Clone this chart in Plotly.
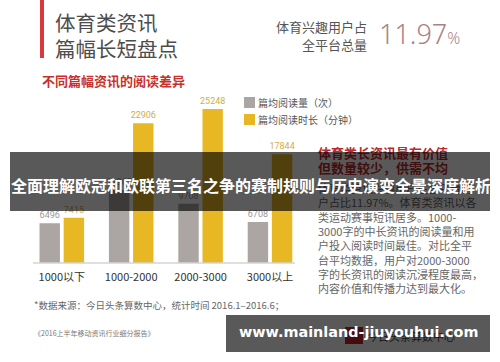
import plotly.graph_objects as go

# ---- data ----
categories = ["1000以下", "1000-2000", "2000-3000", "3000以上"]
read_counts = [6496, 11965, 9708, 6708]          # 篇均阅读量（次）
read_minutes = [7415, 22906, 25248, 17844]       # 篇均阅读时长（分钟）
series_names = ["篇均阅读量（次）", "篇均阅读时长（分钟）"]

title_lines = ["体育类资讯", "篇幅长短盘点"]
subtitle = "不同篇幅资讯的阅读差异"
kpi_label = ["体育兴趣用户占", "全平台总量"]
kpi_value = "11.97"
red_lines = ["体育类长资讯最有价值", "但数量较少，供需不均"]
body_lines = ["体育类资讯兴趣用户在全平台用",
              "户占比11.97%。体育类资讯以各",
              "类运动赛事短讯居多。1000-",
              "3000字的中长资讯的阅读量和用",
              "户投入阅读时间最佳。对比全平",
              "台平均数据，用户对2000-3000",
              "字的长资讯的阅读沉浸程度最高，",
              "内容价值和传播力达到最大化。"]
footer = "*数据来源：今日头条算数中心，统计时间 2016.1–2016.6；"
report = "《2016上半年移动资讯行业细分报告》"
overlay_title = "全面理解欧冠和欧联第三名之争的赛制规则与历史演变全景深度解析"
watermark = "www.mainland-jiuyouhui.com"

W, H = 500, 362
CJK = "Noto Sans CJK SC"
GRAY = "#aba6a3"
GOLD = "#e8b824"


def px(x):
    return x / W


def py(y):
    return 1 - y / H


fig = go.Figure()
fig.add_trace(go.Bar(x=categories, y=read_counts, name=series_names[0],
                     marker=dict(color=GRAY, line=dict(width=0)),
                     texttemplate="%{y:.0f}", textposition="outside",
                     constraintext="none",
                     textfont=dict(size=9, color="#9a9794", family="Roboto"),
                     cliponaxis=False))
fig.add_trace(go.Bar(x=categories, y=read_minutes, name=series_names[1],
                     marker=dict(color=GOLD, line=dict(width=0)),
                     texttemplate="%{y:.0f}", textposition="outside",
                     constraintext="none",
                     textfont=dict(size=9, color="#cfae45", family="Roboto"),
                     cliponaxis=False))

baseline = 263
scale = 0.0061  # px per unit
top_px = 100
ymax = (baseline - top_px) / scale

shapes = [
    dict(type="line", xref="paper", yref="paper", x0=px(33), x1=px(295),
         y0=py(baseline), y1=py(baseline), line=dict(color="#d4d4d4", width=1.5)),
    dict(type="rect", xref="paper", yref="paper", x0=px(40), x1=px(44),
         y0=py(0), y1=py(58), fillcolor="#d9383e", line=dict(width=0)),
    dict(type="rect", xref="paper", yref="paper", x0=px(244), x1=px(255),
         y0=py(97), y1=py(108), fillcolor=GRAY, line=dict(width=0)),
    dict(type="rect", xref="paper", yref="paper", x0=px(244), x1=px(255),
         y0=py(114), y1=py(125), fillcolor=GOLD, line=dict(width=0)),
    dict(type="rect", xref="paper", yref="paper", x0=px(345), x1=px(363),
         y0=py(327), y1=py(344), fillcolor="#c4252b", line=dict(width=0)),
]

ann = []


def text(x, y, s, size, color, anchor="left", weight="normal", family=CJK):
    ann.append(dict(x=px(x), y=py(y), xref="paper", yref="paper", text=s,
                    showarrow=False, xanchor=anchor, yanchor="middle",
                    align=anchor if anchor != "center" else "center",
                    borderpad=0,
                    font=dict(size=size, color=color, family=family, weight=weight)))


text(54, 22, title_lines[0], 20.5, "#4d4d4d")
text(54, 48, title_lines[1], 20.5, "#4d4d4d")
text(41, 80, subtitle, 13, "#c8302a", weight="bold")
text(368, 27, kpi_label[0], 13, "#555555", anchor="right")
text(368, 44, kpi_label[1], 13, "#555555", anchor="right")
ann.append(dict(x=px(378), y=py(34), xref="paper", yref="paper",
                text=kpi_value + "<span style='font-size:16px'>%</span>",
                showarrow=False, xanchor="left", yanchor="middle", align="left",
                borderpad=0,
                font=dict(size=27, color="#a98287", family="Noto Sans", weight=300)))
text(257, 102, series_names[0], 10, "#555555")
text(257, 119, series_names[1], 10, "#555555")
text(317, 152, red_lines[0], 13, "#c0282c", weight="bold")
text(317, 168, red_lines[1], 13, "#c0282c", weight="bold")
for i, line in enumerate(body_lines):
    text(317, 188 + i * 14.3, line, 11, "#666666")
text(33, 305, footer, 9.5, "#666666")
text(33, 333, report, 7, "#777777")
text(366, 336, "今日头条算数中心", 11, "#444444")

# overlay band with title
ann.append(dict(x=px(250), y=py(181.5), xref="paper", yref="paper", text=" ",
                showarrow=False, width=480, height=59, borderpad=0, borderwidth=0,
                bgcolor="rgba(0,0,0,0.65)", xanchor="center", yanchor="middle"))
text(10, 185, overlay_title, 16, "#ffffff", anchor="left", weight="bold")

# bottom watermark band
ann.append(dict(x=px(358), y=py(333.5), xref="paper", yref="paper", text=" ",
                showarrow=False, width=264, height=37, borderpad=0, borderwidth=0,
                bgcolor="rgba(0,0,0,0.65)", xanchor="center", yanchor="middle"))
text(358.5, 332, watermark, 14.4, "#ffffff", anchor="center", weight="bold",
     family="DejaVu Sans")

fig.update_layout(
    width=W, height=H, margin=dict(l=0, r=0, t=0, b=0),
    paper_bgcolor="white", plot_bgcolor="white",
    barmode="group", bargap=0.304, bargroupgap=0.155,
    showlegend=False,
    xaxis=dict(domain=[27.1 / W, 304.7 / W], range=[-0.5, 3.5], type="category",
               showgrid=False, zeroline=False, showline=False, ticks="",
               ticklabelstandoff=6,
               tickfont=dict(size=11, color="#333333", family=CJK)),
    yaxis=dict(domain=[py(baseline), py(top_px)], range=[0, ymax], visible=False),
    shapes=shapes, annotations=ann,
)

fig.write_html("out.html",
               config={"displayModeBar": False},
               post_script="document.body.style.margin='0px';"
                           "document.body.style.padding='0px';")
